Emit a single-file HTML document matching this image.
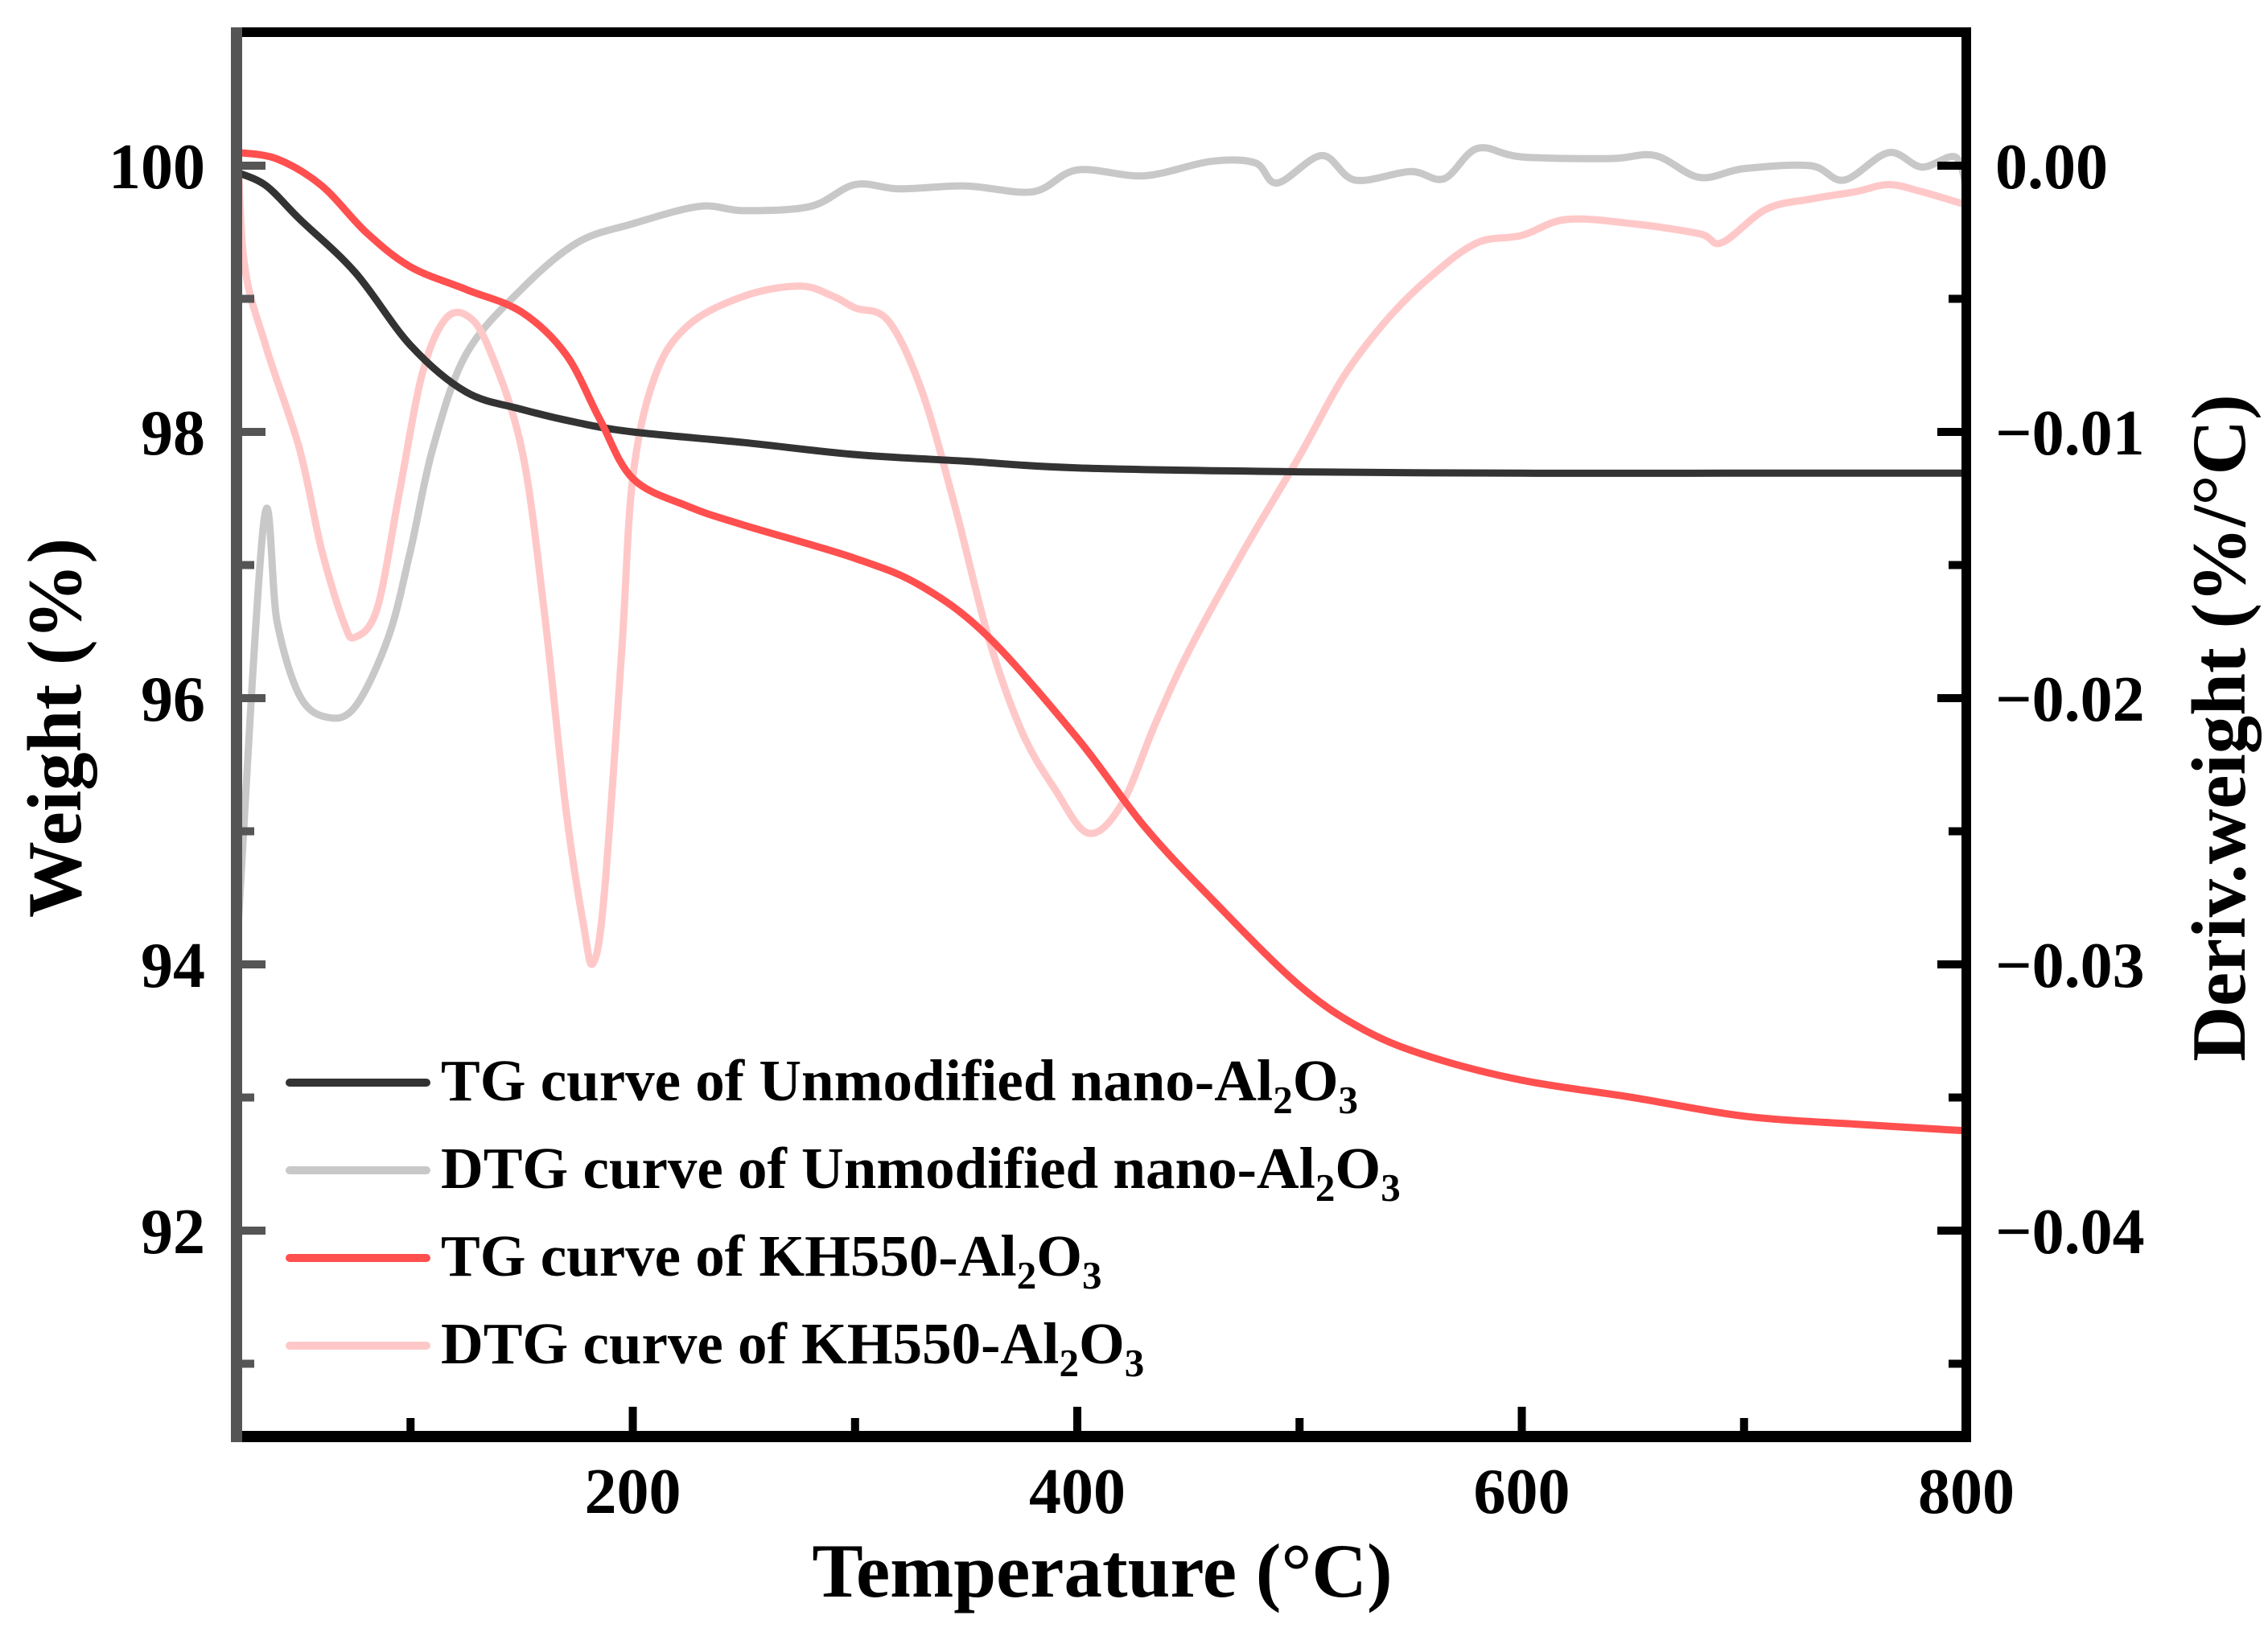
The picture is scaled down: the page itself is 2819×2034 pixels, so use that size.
<!DOCTYPE html>
<html><head><meta charset="utf-8"><style>
html,body{margin:0;padding:0;background:#fff}
svg{display:block}
text{font-family:"Liberation Serif",serif;font-weight:bold;fill:#000}
</style></head><body>
<svg id="chart" width="2819" height="2034" viewBox="0 0 2819 2034">
<defs><clipPath id="plotclip"><rect x="294" y="40" width="2150" height="1745"/></clipPath></defs>
<g id="series" clip-path="url(#plotclip)"></g>
<g id="axes"></g>
<g id="legend"></g>
</svg>
<script>
const tgUnmodT=[22,35,50,75,100,125,150,175,200,250,300,350,400,500,600,700,800];
const tgUnmodW=[99.95,99.85,99.6,99.2,98.65,98.3,98.17,98.07,98.0,97.92,97.83,97.78,97.73,97.7,97.69,97.69,97.69];
const tgKhT=[22,40,60,80,100,125,150,170,185,200,225,250,300,330,360,400,430,460,500,530,560,600,650,700,750,800];
const tgKhW=[100.1,100.05,99.85,99.5,99.24,99.07,98.9,98.58,98.1,97.65,97.44,97.3,97.05,96.84,96.46,95.7,95.04,94.5,93.84,93.5,93.3,93.13,93.0,92.86,92.8,92.75];
const dtgUnmodT=[22,34,40,50,62,75,90,100,110,125,150,175,200,230,250,280,300,320,350,380,400,430,460,480,490,510,525,550,565,580,600,640,660,680,700,730,745,765,780,795,800];
const dtgUnmodV=[-0.02916,-0.01335,-0.01717,-0.01989,-0.02071,-0.02033,-0.01771,-0.01444,-0.01063,-0.00708,-0.00463,-0.00289,-0.00218,-0.00153,-0.00169,-0.00153,-0.00071,-0.00087,-0.00076,-0.00098,-0.00016,-0.00038,0.00016,0.00011,-0.00065,0.00038,-0.00054,-0.00022,-0.00049,0.00065,0.00033,0.00027,0.00038,-0.00044,-0.00011,0,-0.00054,0.00049,-0.00005,0.00033,-0.00082];
const dtgKhT=[22,25,35,50,60,70,75,85,95,105,115,125,135,150,160,170,178,182,187,195,200,210,225,250,275,290,300,315,330,345,360,375,390,405,420,435,450,475,500,520,540,560,580,600,620,650,680,690,710,730,750,765,780,800];
const dtgKhV=[0.002,-0.00354,-0.00681,-0.01063,-0.01444,-0.01717,-0.01771,-0.01662,-0.01226,-0.0079,-0.00583,-0.00561,-0.00681,-0.01063,-0.01662,-0.02425,-0.02861,-0.02997,-0.02752,-0.01826,-0.01172,-0.0079,-0.00599,-0.0049,-0.00452,-0.0049,-0.00534,-0.00583,-0.00845,-0.01281,-0.01771,-0.02125,-0.02343,-0.02507,-0.02398,-0.02098,-0.01826,-0.01444,-0.0109,-0.0079,-0.00572,-0.00409,-0.00289,-0.00262,-0.00202,-0.00218,-0.00256,-0.00289,-0.00163,-0.00125,-0.00098,-0.00071,-0.00098,-0.00147];
const xTicks=[200,400,600,800];
const xMinor=[100,300,500,700];
const yTicks=[100,98,96,94,92];
const yMinor=[99,97,95,93,91];
const y2Ticks=[0,-0.01,-0.02,-0.03,-0.04];
const y2Labels=["0.00","\u22120.01","\u22120.02","\u22120.03","\u22120.04"];

const X0=294,X1=2444,YT=40,YB=1785;
const TMIN=21.7,TMAX=800;
const x=t=>X0+(t-TMIN)/(TMAX-TMIN)*(X1-X0);
const y=w=>206+(100-w)*165.5;
const y2=d=>206-d*33100;
const NS='http://www.w3.org/2000/svg';
function mk(tag,parent){const e=document.createElementNS(NS,tag);parent.appendChild(e);return e;}
function smooth(pts){
  let d='M'+pts[0][0].toFixed(1)+','+pts[0][1].toFixed(1);
  for(let i=0;i<pts.length-1;i++){
    const p0=pts[Math.max(0,i-1)],p1=pts[i],p2=pts[i+1],p3=pts[Math.min(pts.length-1,i+2)];
    const c1=[p1[0]+(p2[0]-p0[0])/6,p1[1]+(p2[1]-p0[1])/6];
    const c2=[p2[0]-(p3[0]-p1[0])/6,p2[1]-(p3[1]-p1[1])/6];
    d+='C'+c1.map(v=>v.toFixed(1))+' '+c2.map(v=>v.toFixed(1))+' '+p2[0].toFixed(1)+','+p2[1].toFixed(1);
  }
  return d;
}
const S=document.getElementById('series');
const pv=mk('line',S);
pv.setAttribute('x1',x(22.5));pv.setAttribute('x2',x(22.5));pv.setAttribute('y1',YT);pv.setAttribute('y2',YB);
pv.setAttribute('stroke','#ffc8c8');pv.setAttribute('stroke-width','7');


function series(T,V,fy,color,name){
  const p=mk('path',S);
  p.setAttribute('d',smooth(T.map((t,i)=>[x(t),fy(V[i])])));
  p.setAttribute('fill','none');p.setAttribute('stroke',color);p.setAttribute('stroke-width','9');
  p.setAttribute('stroke-linejoin','round');
  
  
}
series(dtgUnmodT,dtgUnmodV,y2,'#c8c8c8','dtg-unmodified-line');
series(dtgKhT,dtgKhV,y2,'#ffc8c8','dtg-kh550-line');
series(tgUnmodT,tgUnmodW,y,'#333333','tg-unmodified-line');
series(tgKhT,tgKhW,y,'#ff4f4f','tg-kh550-line');

const A=document.getElementById('axes');
function rect(px,py,w,h,c,name){const r=mk('rect',A);r.setAttribute('x',px);r.setAttribute('y',py);r.setAttribute('width',w);r.setAttribute('height',h);r.setAttribute('fill',c);
  
  }
rect(X0-6,YT-6,X1-X0+12,12,'#000','top-border');
rect(X1-6,YT-6,12,YB-YT+12,'#000','right-axis');
rect(X0-6,YB-6,X1-X0+12,14,'#000','x-axis');
rect(X0-7,YT-6,14,YB-YT+14,'#555','left-axis');
function txt(s,px,py,size,anchor,name){const t=mk('text',A);t.textContent=s;t.setAttribute('x',px);t.setAttribute('y',py);t.setAttribute('font-size',size);t.setAttribute('text-anchor',anchor);
  
  return t;}
xTicks.forEach(t=>{rect(x(t)-5,YB-36,10,36,'#000','x-tick');txt(String(t),x(t),1881,80,'middle','x-tick-label');});
xMinor.forEach(t=>rect(x(t)-5,YB-22,10,22,'#000','x-minor-tick'));
yTicks.forEach(w=>{rect(X0,y(w)-5,36,10,'#555','y-tick');txt(String(w),255,y(w)+28,80,'end','y-tick-label');});
yMinor.forEach(w=>rect(X0,y(w)-5,22,10,'#555','y-minor-tick'));
y2Ticks.forEach((d,i)=>{rect(X1-36,y2(d)-5,36,10,'#000','y2-tick');txt(y2Labels[i],2480,y2(d)+28,80,'start','y2-tick-label');});
[-0.005,-0.015,-0.025,-0.035,-0.045].forEach(d=>rect(X1-22,y2(d)-5,22,10,'#000','y2-minor-tick'));
txt('Temperature (\u00B0C)',1370,1985,95,'middle','x-axis-title');
const yt=txt('Weight (%)',0,0,95,'middle','y-axis-title');yt.setAttribute('transform','translate(100,905) rotate(-90)');
const y2t=txt('Deriv.weight (%/\u00B0C)',0,0,95,'middle','y2-axis-title');y2t.setAttribute('transform','translate(2790,905) rotate(-90)');

const L=document.getElementById('legend');
const entries=[['#333333','TG curve of Unmodified nano-Al'],['#c8c8c8','DTG curve of Unmodified nano-Al'],['#ff4f4f','TG curve of KH550-Al'],['#ffc8c8','DTG curve of KH550-Al']];
const ly=[1346,1455,1564,1673];
entries.forEach((e,i)=>{
  const g=mk('g',L);
  
  
  const l=mk('line',g);l.setAttribute('x1',360);l.setAttribute('x2',530);l.setAttribute('y1',ly[i]);l.setAttribute('y2',ly[i]);
  l.setAttribute('stroke',e[0]);l.setAttribute('stroke-width','10');l.setAttribute('stroke-linecap','round');
  const t=mk('text',g);t.setAttribute('x',548);t.setAttribute('y',ly[i]+22);t.setAttribute('font-size',73);
  t.innerHTML=e[1]+'<tspan font-size="49" dy="16">2</tspan><tspan dy="-16">O</tspan><tspan font-size="49" dy="16">3</tspan>';
});
</script>
</body></html>
